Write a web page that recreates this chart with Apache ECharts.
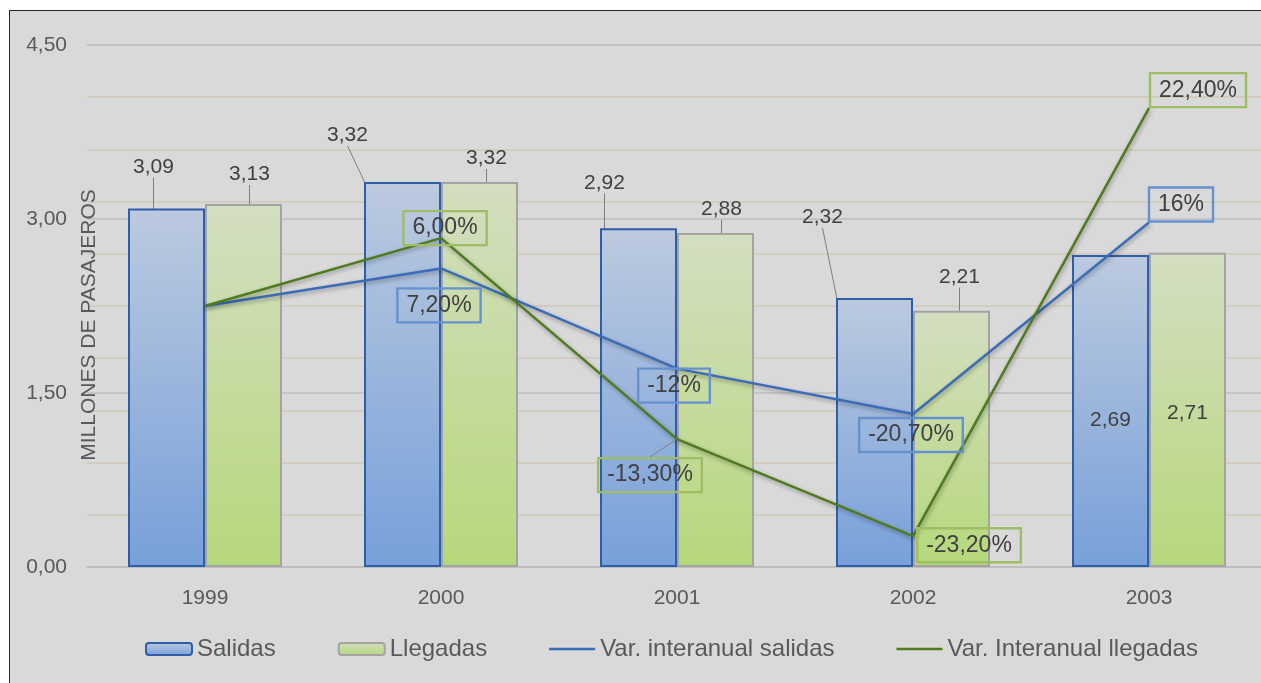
<!DOCTYPE html>
<html><head><meta charset="utf-8">
<script src="https://cdn.jsdelivr.net/npm/echarts@6/dist/echarts.min.js"></script>
<style>
html,body{margin:0;padding:0;background:#fff;overflow:hidden;}
#frame{position:absolute;left:9px;top:10px;width:1300px;height:700px;background:#d9d9d9;border-left:1px solid #262626;border-top:1px solid #262626;}
#c{position:absolute;left:0;top:0;width:1261px;height:683px;}
</style>
</head><body><div id="frame"></div><div id="c"></div>
<script>
// ---- data ----
const years = ['1999', '2000', '2001', '2002', '2003'];
const salidas = [3.09, 3.32, 2.92, 2.32, 2.69];
const llegadas = [3.13, 3.32, 2.88, 2.21, 2.71];
const varSalidas = [0, 7.2, -12, -20.7, 16];
const varSalidasLabels = ['', '7,20%', '-12%', '-20,70%', '16%'];
// plotted positions of the arrivals line (same % axis)
const varLlegadas = [0, 13.0, -25.5, -44.1, 37.9];
const varLlegadasLabels = ['', '6,00%', '-13,30%', '-23,20%', '22,40%'];
const yMin = 0, yMax = 4.5, yStep = 1.5, yMinorStep = 0.45;
const pctMin = -50, pctMax = 50;

const FONT = 'Liberation Sans, Arial, sans-serif';
const comma = v => v.toFixed(2).replace('.', ',');

// label offsets (layout only)
const barOffs = [
  [[-13, -26], [-55, -31], [-34, -30], [-52, -65], [0, 9]],
  [[6, -14], [7, -8], [6, -8], [8, -18], [0, 3]]
];
const lineOffs = [
  [[0, 0], [-2, 37], [-3, 17], [-2, 21], [32, -18]],
  [[0, 0], [4, -10], [-27, 36], [56, 9], [49, -18]]
];

const chart = echarts.init(document.getElementById('c'), null, {renderer: 'canvas'});

function barData(arr) {
  return arr.map((v, i) => i === 4 ? {value: v, label: {position: 'inside'}} : v);
}
function lineData(vals, labels, leaderIdx) {
  return vals.map((v, i) => ({
    value: v,
    label: {show: labels[i] !== ''},
    labelLine: {show: i === leaderIdx}
  }));
}

const barLabel = {
  show: true, position: 'top', distance: 5,
  fontFamily: FONT, fontSize: 21, color: '#404040',
  formatter: p => comma(p.value)
};
function lineLabel(border, labels) {
  return {
    show: true, position: 'inside',
    fontFamily: FONT, fontSize: 23, color: '#404040',
    borderColor: border, borderWidth: 1.2, padding: [6, 9, 5, 9],
    backgroundColor: 'transparent',
    formatter: p => labels[p.dataIndex]
  };
}
const lineIcon = 'path://M0,0H46V2.5H0Z';

chart.setOption({
  backgroundColor: 'transparent',
  animation: false,
  grid: {left: 87, right: -6, top: 45, bottom: 116, containLabel: false, outerBoundsMode: 'none'},
  legend: {
    left: 140, top: 632, itemWidth: 46, itemHeight: 12, itemGap: 62,
    textStyle: {fontFamily: FONT, fontSize: 24, color: '#595959'},
    data: [
      {name: 'Salidas'}, {name: 'Llegadas'},
      {name: 'Var. interanual salidas', icon: lineIcon},
      {name: 'Var. Interanual llegadas', icon: lineIcon}
    ]
  },
  xAxis: [{
    type: 'category', data: years, boundaryGap: true,
    axisLine: {show: true, lineStyle: {color: '#bfbfbf', width: 1.5}},
    axisTick: {show: false},
    axisLabel: {fontFamily: FONT, fontSize: 21, color: '#595959', margin: 21}
  }],
  yAxis: [{
    type: 'value', min: yMin, max: yMax, interval: yStep, z: 1,
    axisLine: {show: false}, axisTick: {show: false},
    splitLine: {show: true, lineStyle: {color: '#bcbcbc', width: 1.5}},
    axisLabel: {fontFamily: FONT, fontSize: 21, color: '#595959', margin: 20, formatter: v => comma(v)},
    name: 'MILLONES DE PASAJEROS', nameLocation: 'middle', nameGap: -13, nameRotate: 90,
    nameMoveOverlap: false,
    nameTextStyle: {fontFamily: FONT, fontSize: 21, color: '#595959', padding: [0, 38, 0, 0]}
  }, {
    type: 'value', min: yMin, max: yMax, interval: yMinorStep, position: 'left', z: 0,
    axisLine: {show: false}, axisTick: {show: false}, axisLabel: {show: false},
    splitLine: {show: true, lineStyle: {color: '#d0c9b9', width: 1.5}}
  }, {
    type: 'value', min: pctMin, max: pctMax, show: false
  }],
  series: [{
    name: 'Salidas', type: 'bar', yAxisIndex: 0, barWidth: 77, barGap: '0%', z: 2,
    itemStyle: {
      color: {type: 'linear', x: 0, y: 0, x2: 0, y2: 1,
        colorStops: [{offset: 0, color: '#bccadf'}, {offset: 1, color: '#77a0da'}]},
      borderColor: '#2f5ea9', borderWidth: 2
    },
    label: barLabel,
    labelLine: {show: true, lineStyle: {color: '#7f7f7f', width: 1}},
    labelLayout: p => ({dx: barOffs[0][p.dataIndex][0], dy: barOffs[0][p.dataIndex][1]}),
    data: barData(salidas)
  }, {
    name: 'Llegadas', type: 'bar', yAxisIndex: 0, barWidth: 77, barGap: '0%', z: 2,
    itemStyle: {
      color: {type: 'linear', x: 0, y: 0, x2: 0, y2: 1,
        colorStops: [{offset: 0, color: '#d4dec2'}, {offset: 1, color: '#b6d87b'}]},
      borderColor: '#a3a3a3', borderWidth: 2
    },
    label: barLabel,
    labelLine: {show: true, lineStyle: {color: '#7f7f7f', width: 1}},
    labelLayout: p => ({dx: barOffs[1][p.dataIndex][0], dy: barOffs[1][p.dataIndex][1]}),
    data: barData(llegadas)
  }, {
    name: 'Var. interanual salidas', type: 'line', yAxisIndex: 2, z: 4,
    symbol: 'circle', symbolSize: 1, showSymbol: true, smooth: false,
    lineStyle: {color: '#3a6cb8', width: 2.5, shadowColor: 'rgba(0,0,0,0.35)', shadowBlur: 4, shadowOffsetX: 1, shadowOffsetY: 2},
    itemStyle: {color: '#3a6cb8'},
    label: lineLabel('#6592cf', varSalidasLabels),
    labelLine: {show: false, lineStyle: {color: '#7f7f7f', width: 1}},
    labelLayout: p => ({dx: lineOffs[0][p.dataIndex][0], dy: lineOffs[0][p.dataIndex][1]}),
    data: lineData(varSalidas, varSalidasLabels, -1)
  }, {
    name: 'Var. Interanual llegadas', type: 'line', yAxisIndex: 2, z: 4,
    symbol: 'circle', symbolSize: 1, showSymbol: true, smooth: false,
    lineStyle: {color: '#4f7b1f', width: 2.5, shadowColor: 'rgba(0,0,0,0.35)', shadowBlur: 4, shadowOffsetX: 1, shadowOffsetY: 2},
    itemStyle: {color: '#4f7b1f'},
    label: lineLabel('#9fbd62', varLlegadasLabels),
    labelLine: {show: false, lineStyle: {color: '#7f7f7f', width: 1}},
    labelLayout: p => ({dx: lineOffs[1][p.dataIndex][0], dy: lineOffs[1][p.dataIndex][1]}),
    data: lineData(varLlegadas, varLlegadasLabels, 2)
  }]
});
</script>
</body></html>
